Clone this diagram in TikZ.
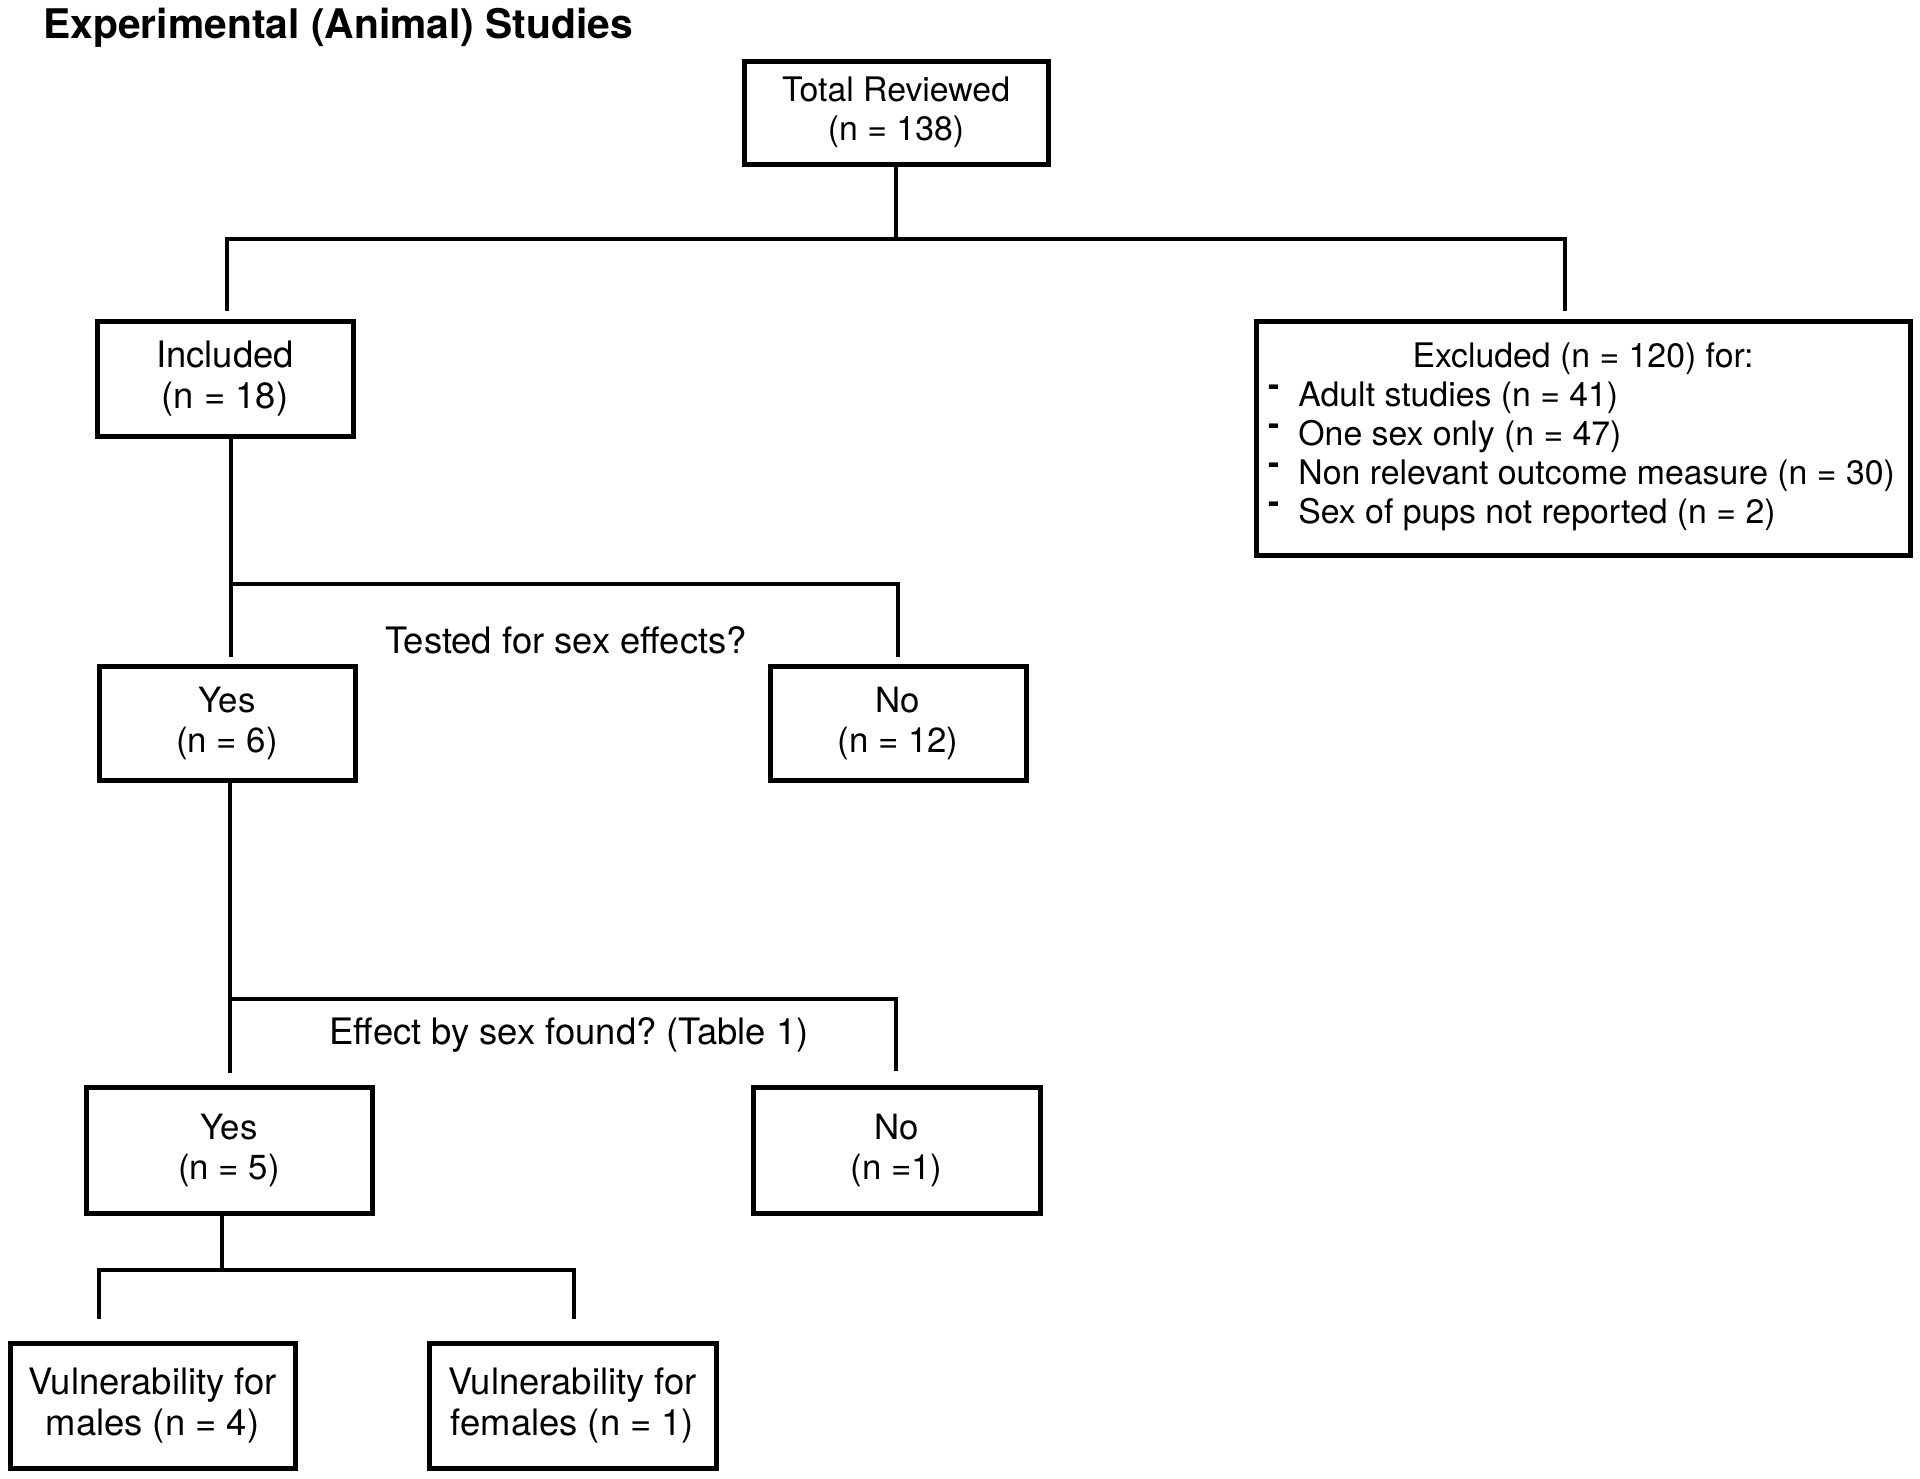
\documentclass[tikz,border=0pt]{standalone}
\usepackage{fontspec}
\setmainfont{TeX Gyre Heros}
\frenchspacing
\begin{document}
\begin{tikzpicture}[x=0.5pt,y=-0.5pt,
  box/.style={draw,line width=2.5pt,align=center,inner sep=0pt,font=\fontsize{16.9}{19.5}\selectfont},
  bigbox/.style={box,font=\fontsize{18.2}{20.5}\selectfont},
  midbox/.style={box,font=\fontsize{17.4}{20}\selectfont},
  conn/.style={line width=2pt},
  lbl/.style={font=\fontsize{16.9}{19.5}\selectfont,inner sep=0pt},
  qlbl/.style={font=\fontsize{18.2}{21}\selectfont,inner sep=0pt}]
\useasboundingbox (0,0) rectangle (1920,1478);
\node[font=\bfseries\fontsize{20.4}{24}\selectfont,anchor=west,inner sep=0pt] (title) at (43,28) {Experimental (Animal) Studies};
% boxes
\node[box,minimum width=152pt,minimum height=51.5pt] (total) at (896,112.5) {Total Reviewed\\(n = 138)};
\node[bigbox,minimum width=128pt,minimum height=57.5pt] (incl) at (225,378.5) {Included\\(n = 18)};
\node[box,minimum width=327pt,minimum height=117pt] (excl) at (1583,438) {};
\node[lbl] (exh) at (1583,359) {Excluded (n = 120) for:};
\foreach \i/\t in {0/Adult studies (n = 41),1/One sex only (n = 47),2/Non relevant outcome measure (n = 30),3/Sex of pups not reported (n = 2)}{
  \node[lbl,anchor=west,font=\bfseries\fontsize{16.9}{19.5}\selectfont] (exd\i) at (1268,{391+39*\i}) {-};
  \node[lbl,anchor=west] (ext\i) at (1298,{398+39*\i}) {\t};
}
\node[midbox,minimum width=128pt,minimum height=57pt] (yes1) at (227,723) {Yes\\(n = 6)};
\node[midbox,minimum width=128pt,minimum height=57pt] (no1) at (898,723) {No\\(n = 12)};
\node[midbox,minimum width=143pt,minimum height=63pt] (yes2) at (229,1150) {Yes\\(n = 5)};
\node[midbox,minimum width=143.5pt,minimum height=63pt] (no2) at (896.5,1150) {No\\(n =1)};
\node[bigbox,minimum width=142.5pt,minimum height=62.5pt] (males) at (152.5,1405.5) {Vulnerability for\\males (n = 4)};
\node[bigbox,minimum width=143.5pt,minimum height=62.5pt] (fem) at (572.5,1405.5) {Vulnerability for\\females (n = 1)};
% labels
\node[qlbl] (q1) at (566,640) {Tested for sex effects?};
\node[qlbl] (q2) at (569,1035) {Effect by sex found? (Table 1)};
% connectors
\coordinate (h1) at (896,239);
\coordinate (exTop) at (1565,311);
\coordinate (inTop) at (227,311);
\draw[conn] (total.south) -- (h1);
\draw[conn] (inTop) |- (h1) -| (exTop);
\coordinate (h2) at (898,584);
\coordinate (yesTop) at (231,657);
\coordinate (noTop) at (898,657);
\draw[conn] (incl.south -| yesTop) -- (yesTop);
\draw[conn] (yesTop |- h2) -- (h2) -- (noTop);
\coordinate (h3) at (896,999);
\coordinate (yes2Top) at (230,1073);
\coordinate (no2Top) at (896,1071);
\draw[conn] (yes1.south -| yes2Top) -- (yes2Top);
\draw[conn] (yes2Top |- h3) -- (h3) -- (no2Top);
\coordinate (h4) at (222,1270);
\coordinate (mTop) at (99,1319);
\coordinate (fTop) at (574,1319);
\draw[conn] (yes2.south -| h4) -- (h4);
\draw[conn] (mTop) |- (h4) -| (fTop);
\end{tikzpicture}
\end{document}
